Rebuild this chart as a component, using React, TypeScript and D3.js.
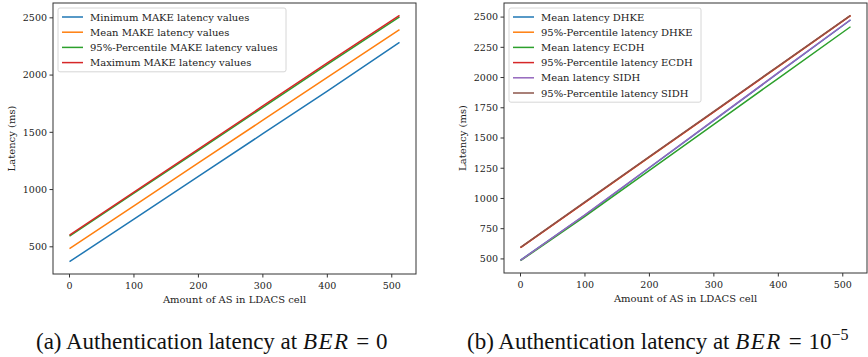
import React from "react";
import * as d3 from "d3";

// x positions (amount of AS in LDACS cell)
const asCounts = [0, 100, 200, 300, 400, 512];

// panel (a): BER = 0
const minMake = [370, 742, 1115, 1488, 1860, 2285];
const meanMake = [483, 857, 1232, 1606, 1980, 2398];
const p95Make = [593, 968, 1343, 1718, 2093, 2508];
const maxMake = [601, 977, 1353, 1730, 2107, 2522];

// panel (b): BER = 1e-5
const meanDhke = [490, 862, 1254, 1646, 2038, 2476];
const p95Dhke = [593, 967, 1342, 1716, 2091, 2512];
const meanEcdh = [485, 852, 1233, 1613, 1994, 2420];
const p95Ecdh = [594, 968, 1343, 1717, 2092, 2513];
const meanSidh = [488, 865, 1256, 1648, 2040, 2478];
const p95Sidh = [596, 971, 1346, 1720, 2095, 2515];

const xTicks = [0, 100, 200, 300, 400, 500];
const yTicksA = [500, 1000, 1500, 2000, 2500];
const yTicksB = [500, 750, 1000, 1250, 1500, 1750, 2000, 2250, 2500];

const tab10 = ["#1f77b4", "#ff7f0e", "#2ca02c", "#d62728", "#9467bd", "#8c564b"];

type Series = { name: string; values: number[]; color: string };

const seriesA: Series[] = [
  { name: "Minimum MAKE latency values", values: minMake, color: tab10[0] },
  { name: "Mean MAKE latency values", values: meanMake, color: tab10[1] },
  { name: "95%-Percentile MAKE latency values", values: p95Make, color: tab10[2] },
  { name: "Maximum MAKE latency values", values: maxMake, color: tab10[3] },
];

const seriesB: Series[] = [
  { name: "Mean latency DHKE", values: meanDhke, color: tab10[0] },
  { name: "95%-Percentile latency DHKE", values: p95Dhke, color: tab10[1] },
  { name: "Mean latency ECDH", values: meanEcdh, color: tab10[2] },
  { name: "95%-Percentile latency ECDH", values: p95Ecdh, color: tab10[3] },
  { name: "Mean latency SIDH", values: meanSidh, color: tab10[4] },
  { name: "95%-Percentile latency SIDH", values: p95Sidh, color: tab10[5] },
];

const axStyle = { fontFamily: "DejaVu Serif" };
const capStyle = { fontFamily: "Liberation Serif" };

function Panel({ left, right, top, bottom, series, yTicks, legendW }: {
  left: number; right: number; top: number; bottom: number;
  series: Series[]; yTicks: number[]; legendW: number;
}) {
  const allY = series.flatMap(s => s.values);
  const xMin = d3.min(asCounts)!, xMax = d3.max(asCounts)!;
  const yMin = d3.min(allY)!, yMax = d3.max(allY)!;
  const xPad = (xMax - xMin) * 0.05, yPad = (yMax - yMin) * 0.05;

  const x = d3.scaleLinear().domain([xMin - xPad, xMax + xPad]).range([left, right]);
  const y = d3.scaleLinear().domain([yMin - yPad, yMax + yPad]).range([bottom, top]);
  const line = d3.line<number>().x((_, i) => x(asCounts[i])).y(d => y(d));

  const lgX = left + 5, lgY = top + 5, rowH = 15.2;
  const lgH = series.length * rowH + 3;

  return (
    <g>
      {series.map(s => (
        <path key={s.name} d={line(s.values)!} fill="none" stroke={s.color} strokeWidth={1.5} />
      ))}
      <rect x={left} y={top} width={right - left} height={bottom - top} fill="none" stroke="#333" strokeWidth={1} />

      {xTicks.map(t => (
        <g key={t} transform={`translate(${x(t)},${bottom})`}>
          <line y2={3.5} stroke="#333" />
          <text y={15} textAnchor="middle" fontSize={9.5} fill="#222" style={axStyle}>{t}</text>
        </g>
      ))}
      {yTicks.map(t => (
        <g key={t} transform={`translate(${left},${y(t)})`}>
          <line x2={-3.5} stroke="#333" />
          <text x={-6} dy="0.35em" textAnchor="end" fontSize={9.5} fill="#222" style={axStyle}>{t}</text>
        </g>
      ))}
      <text x={(left + right) / 2} y={bottom + 28.5} textAnchor="middle" fontSize={10} fill="#222" style={axStyle}>
        Amount of AS in LDACS cell
      </text>
      <text transform={`translate(${left - 38},${(top + bottom) / 2}) rotate(-90)`} textAnchor="middle" fontSize={10} fill="#222" style={axStyle}>
        Latency (ms)
      </text>

      <rect x={lgX} y={lgY} width={legendW} height={lgH} fill="#fff" fillOpacity={0.85} stroke="#ccc" strokeWidth={0.8} rx={2} />
      {series.map((s, i) => {
        const cy = lgY + 9 + i * rowH;
        return (
          <g key={s.name}>
            <line x1={lgX + 4} x2={lgX + 25} y1={cy} y2={cy} stroke={s.color} strokeWidth={1.5} />
            <text x={lgX + 32} y={cy} dy="0.35em" fontSize={10} fill="#222" style={axStyle}>{s.name}</text>
          </g>
        );
      })}
    </g>
  );
}

export default function App() {
  return (
    <svg width={868} height={357} style={{ position: "absolute", left: 0, top: 0, background: "#fff" }}>
      <Panel left={53} right={416} top={3} bottom={274} series={seriesA} yTicks={yTicksA} legendW={228} />
      <Panel left={504} right={867} top={3} bottom={273} series={seriesB} yTicks={yTicksB} legendW={192} />

      <text x={36} y={349} fontSize={23} fill="#111" style={capStyle}>
        (a) Authentication latency at <tspan fontStyle="italic" letterSpacing={1.5}>BER</tspan>{" "}
        <tspan dx={1}>=</tspan>{" "}<tspan dx={1}>0</tspan>
      </text>
      <text x={467} y={349} fontSize={23} fill="#111" style={capStyle}>
        (b) Authentication latency at <tspan fontStyle="italic" letterSpacing={1.5}>BER</tspan>{" "}
        <tspan dx={1}>=</tspan>{" "}<tspan dx={1}>10</tspan><tspan dy={-9} fontSize={16}>−5</tspan>
      </text>
    </svg>
  );
}
